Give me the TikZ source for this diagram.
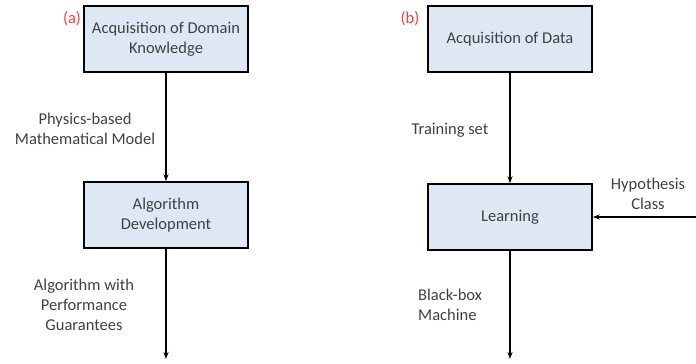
\documentclass[tikz,border=0pt]{standalone}
\usepackage{fontspec}
\setmainfont{Carlito}
\usetikzlibrary{arrows.meta}
\definecolor{boxfill}{HTML}{DEE8F5}
\definecolor{txt}{HTML}{404040}
\definecolor{tag}{HTML}{FF3B3B}
\begin{document}
\begin{tikzpicture}[x=1pt,y=-1pt,
  stepbox/.style={draw=black,line width=1.6pt,fill=boxfill,minimum width=164pt,minimum height=66pt,
    align=center,text=txt,font=\fontsize{16.5}{20}\selectfont,inner sep=0pt},
  lbl/.style={text=txt,font=\fontsize{16.5}{20}\selectfont,align=center,inner sep=0pt},
  flow/.style={line width=1.4pt,-{Stealth[length=7pt,width=5pt]}}]
\useasboundingbox (0,0) rectangle (696,364);
% left column: model-based design
\node[stepbox] (a1) at (166,39) {Acquisition of Domain\\Knowledge};
\node[stepbox] (a2) at (166,215) {Algorithm\\Development};
\coordinate (aend) at (166,359);
\node[font=\fontsize{16.5}{18}\selectfont,text=tag,inner sep=0pt] (ta) at (72,19) {(a)};
\node[lbl] (la1) at (85,129) {Physics-based\\Mathematical Model};
\node[lbl] (la2) at (84,305) {Algorithm with\\Performance\\Guarantees};
\draw[flow] (a1) -- (a2);
\draw[flow] (a2) -- (aend);
% right column: learning
\node[stepbox] (b1) at (510,39) {Acquisition of Data};
\node[stepbox] (b2) at (510,217) {Learning};
\coordinate (bend) at (510,359);
\coordinate (hyp) at (696,217);
\node[font=\fontsize{16.5}{18}\selectfont,text=tag,inner sep=0pt] (tb) at (410,19) {(b)};
\node[lbl] (lb1) at (450,130) {Training set};
\node[lbl,align=left,anchor=west] (lb2) at (418,305) {Black-box\\Machine};
\node[lbl] (lh) at (648,194) {Hypothesis\\Class};
\draw[flow] (b1) -- (b2);
\draw[flow] (b2) -- (bend);
\draw[flow] (hyp) -- (b2);
\end{tikzpicture}
\end{document}
